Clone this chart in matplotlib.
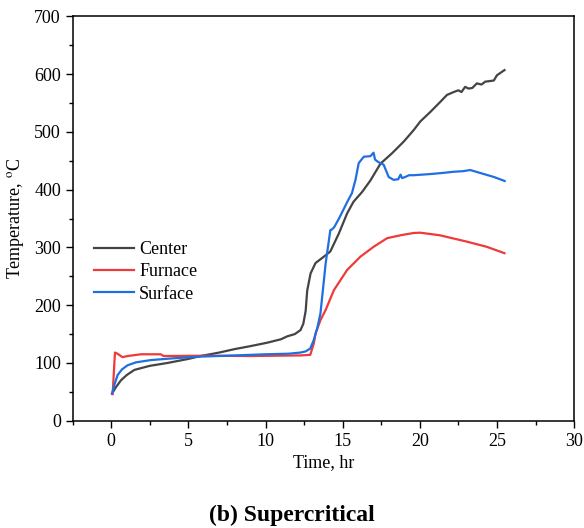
import matplotlib.pyplot as plt
from matplotlib.ticker import MultipleLocator

plt.rcParams['font.family'] = ['Liberation Serif', 'DejaVu Serif']
plt.rcParams['mathtext.fontset'] = 'stix'

# center thermocouple
center_t = [0.05, 0.3, 0.63, 1.0, 1.5, 2.5, 3.65, 5.0, 5.8, 7.0, 8.0, 9.0, 10.1, 11.0,
            11.4, 11.9, 12.27, 12.45, 12.6, 12.7, 12.92, 13.24, 13.78, 14.2, 14.75, 15.29,
            15.7, 16.26, 16.8, 17.45, 18.2, 18.95, 19.6, 20.03, 20.7, 21.33, 21.76, 22.2,
            22.5, 22.7, 22.94, 23.15, 23.4, 23.7, 24.0, 24.24, 24.55, 24.8, 25.0, 25.49]
center_T = [47, 58, 70, 79, 88, 95, 100, 107, 112, 118, 124, 129, 135, 141,
            146, 150, 157, 168, 190, 225, 255, 273, 284, 293, 324, 359,
            379, 396, 416, 445, 463, 483, 503, 518, 535, 552, 564, 569,
            572, 569, 578, 575, 576, 584, 582, 587, 588, 589, 598, 607]

# furnace
furnace_t = [0.09, 0.2, 0.24, 0.4, 0.73, 1.06, 1.92, 3.2, 3.4, 5.8, 9.0, 12.27, 12.9,
             13.13, 13.24, 13.56, 13.9, 14.43, 15.29, 16.15, 17.0, 17.88, 18.74, 19.6,
             20.03, 21.3, 23.05, 24.35, 25.49]
furnace_T = [46, 100, 118, 116, 110, 112, 115, 115, 112, 112.5, 112, 113, 114,
             134, 151, 174, 192, 226, 261, 284, 301, 316, 321, 325,
             325.5, 321, 310, 301, 290]

# surface
surface_t = [0.05, 0.2, 0.41, 0.7, 1.06, 1.6, 2.57, 4.0, 5.8, 8.0, 10.0, 11.5, 12.27,
             12.6, 12.9, 13.13, 13.35, 13.56, 13.9, 14.2, 14.3, 14.45, 14.8, 15.3, 15.6,
             15.83, 16.04, 16.37, 16.8, 17.0, 17.1, 17.3, 17.66, 17.98, 18.3, 18.6, 18.75,
             18.85, 19.06, 19.3, 19.6, 20.68, 21.5, 22.2, 22.8, 23.27, 23.9, 24.8, 25.5]
surface_T = [47, 62, 79, 89, 96, 101, 105, 108, 111, 113, 115, 116, 118,
             120, 125, 140, 160, 186, 273, 330, 331, 335, 352, 379, 394,
             417, 446, 457, 458, 464, 452, 448, 443, 422, 417, 418, 426,
             420, 422, 425, 425, 427, 429, 431, 432, 434, 429, 422, 415]

fig = plt.figure(figsize=(5.84, 5.28), dpi=100)
ax = fig.add_axes([0.1245, 0.2032, 0.8585, 0.7658])

ax.plot(center_t, center_T, color='#444444', lw=1.6, label='Center')
ax.plot(furnace_t, furnace_T, color='#ee3a3a', lw=1.6, label='Furnace')
ax.plot(surface_t, surface_T, color='#1f6fe0', lw=1.6, label='Surface')

ax.set_xlim(-2.5, 30)
ax.set_ylim(0, 700)
ax.xaxis.set_major_locator(MultipleLocator(5))
ax.xaxis.set_minor_locator(MultipleLocator(2.5))
ax.yaxis.set_major_locator(MultipleLocator(100))
ax.yaxis.set_minor_locator(MultipleLocator(50))
ax.tick_params(which='major', direction='out', length=5, width=1, labelsize=13)
ax.tick_params(which='minor', direction='out', length=3, width=1)
for s in ax.spines.values():
    s.set_linewidth(1.1)

ax.set_xlabel('Time, hr', fontsize=13, labelpad=3)
ax.set_ylabel('Temperature, $^{\\mathrm{o}}$C', fontsize=13, labelpad=6)

ax.legend(loc='upper left', bbox_to_anchor=(0.01, 0.485), frameon=False,
          fontsize=13, handlelength=2.2, labelspacing=0.3, handletextpad=0.3)

fig.text(0.5, 0.024, '(b) Supercritical', ha='center', va='center',
         fontsize=17, fontweight='bold')

fig.savefig('out.png', dpi=100)
